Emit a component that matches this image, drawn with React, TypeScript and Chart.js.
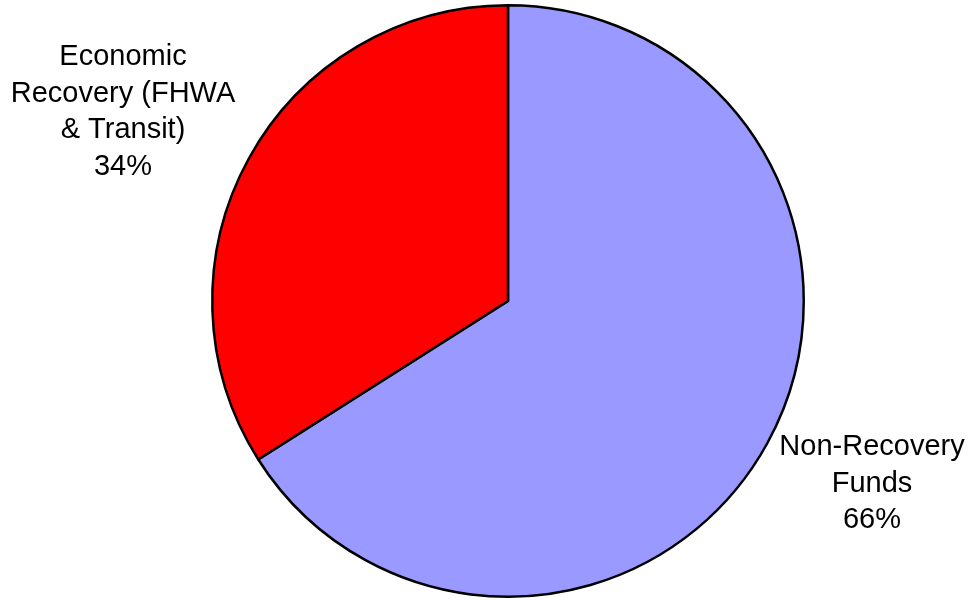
import React, { useEffect, useRef } from "react";
import { Chart, registerables } from "chart.js";

Chart.register(...registerables);

const categories = ["Non-Recovery Funds", "Economic Recovery (FHWA & Transit)"];
const values = [66, 34];
const colors = ["#9999FF", "#FF0000"];
const labelLines = [
  ["Non-Recovery", "Funds", "66%"],
  ["Economic", "Recovery (FHWA", "& Transit)", "34%"],
];
// label anchor offsets relative to pie centre (first-line baseline)
const labelOffsets = [
  [364, 154],
  [-385, -236],
];

const labelPlugin = {
  id: "pieLabels",
  afterDatasetsDraw(chart: any) {
    const ctx = chart.ctx;
    const meta = chart.getDatasetMeta(0);
    ctx.save();
    ctx.font = "29px 'Liberation Sans', Arial, sans-serif";
    ctx.fillStyle = "#000";
    ctx.textAlign = "center";
    ctx.textBaseline = "alphabetic";
    meta.data.forEach((arc: any, i: number) => {
      const cx = arc.x + labelOffsets[i][0];
      const cy = arc.y + labelOffsets[i][1];
      labelLines[i].forEach((line, j) => {
        ctx.fillText(line, cx, cy + j * 36.5);
      });
    });
    ctx.restore();
  },
};

export default function App() {
  const ref = useRef<HTMLCanvasElement>(null);
  useEffect(() => {
    document.body.style.margin = "0";
    const chart = new Chart(ref.current!, {
      type: "pie",
      data: {
        labels: categories,
        datasets: [
          {
            data: values,
            backgroundColor: colors,
            borderColor: "#000000",
            borderWidth: 2.5,
            hoverOffset: 0,
            offset: 0,
          },
        ],
      },
      options: {
        responsive: false,
        animation: false,
        layout: { padding: { top: 4, bottom: 2, left: 44, right: 0 } },
        plugins: {
          legend: { display: false },
          tooltip: { enabled: false },
        },
      },
      plugins: [labelPlugin],
    });
    return () => chart.destroy();
  }, []);
  return (
    <div style={{ position: "fixed", left: 0, top: 0, width: 972, height: 600, background: "#fff" }}>
      <canvas ref={ref} width={972} height={600} style={{ width: 972, height: 600 }} />
    </div>
  );
}
